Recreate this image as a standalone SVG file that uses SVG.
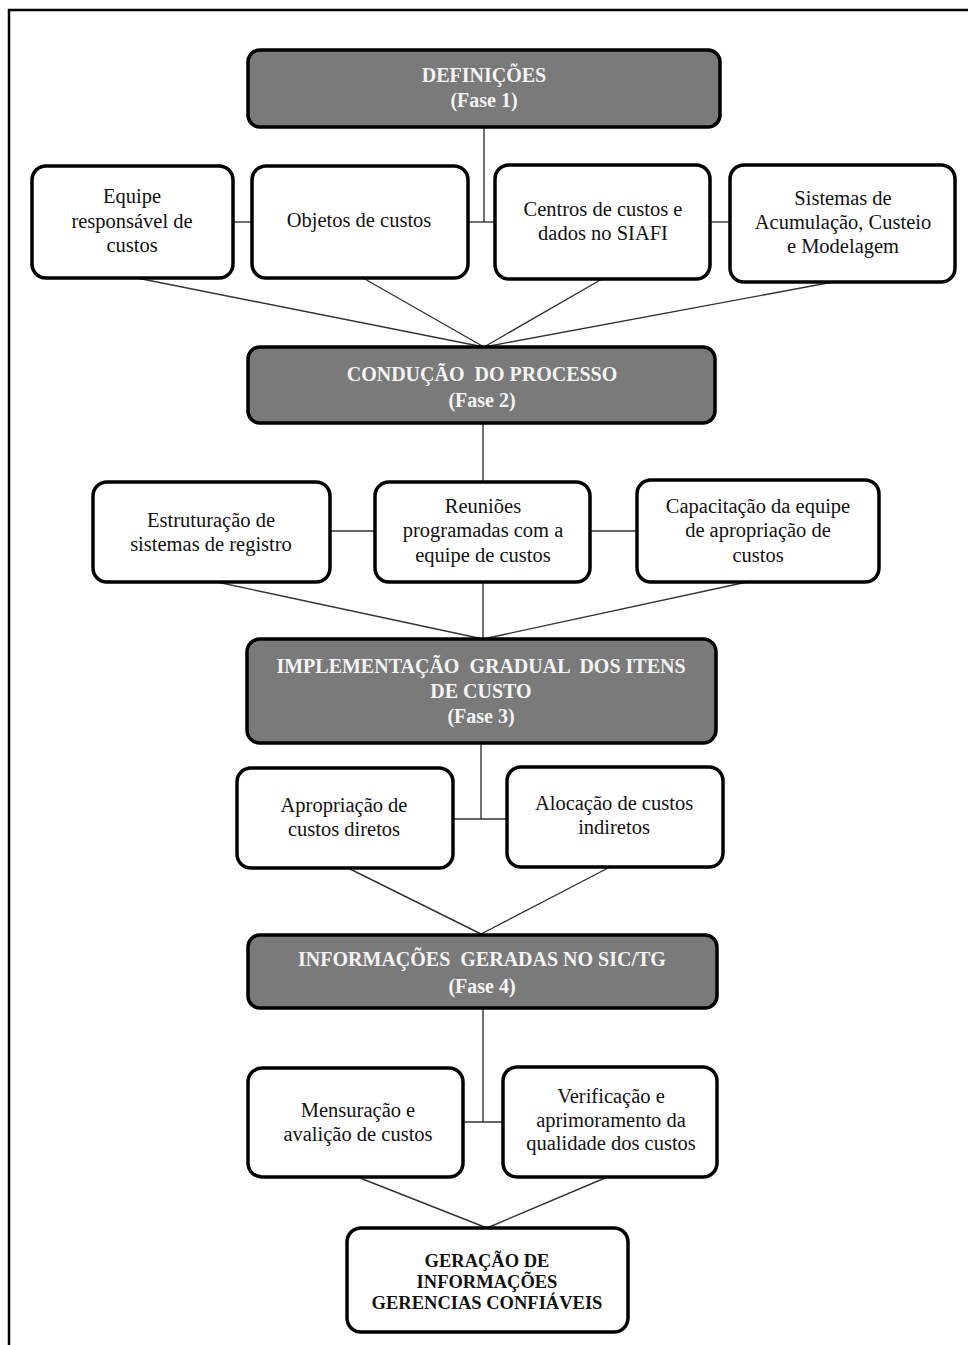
<svg xmlns="http://www.w3.org/2000/svg" width="968" height="1345" viewBox="0 0 968 1345">
<style>
  .phase rect { fill: #7a7a7a; stroke: #000; stroke-width: 3.5; }
  .box rect { fill: #fff; stroke: #000; stroke-width: 3.5; }
  .phase text { font-family: "Liberation Serif", "Times New Roman", serif; font-weight: bold; font-size: 20px; fill: #f4f4f4; text-anchor: middle; }
  .box text { font-family: "Liberation Serif", "Times New Roman", serif; font-size: 20.5px; fill: #111; text-anchor: middle; }
  .final text { font-weight: bold; font-size: 18.5px; fill: #111; }
  #connectors line { stroke: #333; stroke-width: 1.4; }
</style>
<rect x="0" y="0" width="968" height="1345" fill="#fff"/>
<rect id="frame" x="9" y="10" width="1000" height="1400" fill="none" stroke="#000" stroke-width="2.5"/>

<g id="connectors">
  <line x1="484" y1="127" x2="484" y2="222"/>
  <line x1="233" y1="222" x2="252" y2="222"/>
  <line x1="468" y1="222" x2="495" y2="222"/>
  <line x1="710" y1="222" x2="730" y2="222"/>
  <line x1="137" y1="278" x2="484" y2="347"/>
  <line x1="363" y1="278" x2="484" y2="347"/>
  <line x1="602" y1="279" x2="484" y2="347"/>
  <line x1="833" y1="282" x2="484" y2="347"/>
  <line x1="483" y1="423" x2="483" y2="482"/>
  <line x1="330" y1="531" x2="375" y2="531"/>
  <line x1="590" y1="531" x2="637" y2="531"/>
  <line x1="217" y1="582" x2="483" y2="639"/>
  <line x1="483" y1="582" x2="483" y2="639"/>
  <line x1="747" y1="582" x2="483" y2="639"/>
  <line x1="481" y1="743" x2="481" y2="819"/>
  <line x1="453" y1="819" x2="507" y2="819"/>
  <line x1="348" y1="868" x2="481" y2="934"/>
  <line x1="610" y1="867" x2="481" y2="934"/>
  <line x1="483" y1="1008" x2="483" y2="1122"/>
  <line x1="463" y1="1122" x2="503" y2="1122"/>
  <line x1="360" y1="1178" x2="487" y2="1228"/>
  <line x1="605" y1="1178" x2="487" y2="1228"/>
</g>

<g id="fase1" class="phase">
  <rect x="248" y="50" width="472" height="77" rx="12"/>
  <text x="484" y="82">DEFINIÇÕES</text>
  <text x="484" y="107">(Fase 1)</text>
</g>

<g id="equipe" class="box">
  <rect x="32" y="166" width="201" height="112" rx="14"/>
  <text x="132" y="203">Equipe</text>
  <text x="132" y="228">responsável de</text>
  <text x="132" y="252">custos</text>
</g>
<g id="objetos" class="box">
  <rect x="252" y="166" width="216" height="112" rx="14"/>
  <text x="359" y="227">Objetos de custos</text>
</g>
<g id="centros" class="box">
  <rect x="495" y="165" width="215" height="114" rx="14"/>
  <text x="603" y="216">Centros de custos e</text>
  <text x="603" y="240">dados no SIAFI</text>
</g>
<g id="sistemas" class="box">
  <rect x="730" y="165" width="225" height="117" rx="14"/>
  <text x="843" y="205">Sistemas de</text>
  <text x="843" y="229">Acumulação, Custeio</text>
  <text x="843" y="253">e Modelagem</text>
</g>

<g id="fase2" class="phase">
  <rect x="248" y="347" width="467" height="76" rx="12"/>
  <text x="482" y="381" xml:space="preserve">CONDUÇÃO  DO PROCESSO</text>
  <text x="482" y="407">(Fase 2)</text>
</g>

<g id="estruturacao" class="box">
  <rect x="93" y="482" width="237" height="100" rx="14"/>
  <text x="211" y="527">Estruturação de</text>
  <text x="211" y="551">sistemas de registro</text>
</g>
<g id="reunioes" class="box">
  <rect x="375" y="482" width="215" height="100" rx="14"/>
  <text x="483" y="513">Reuniões</text>
  <text x="483" y="537">programadas com a</text>
  <text x="483" y="562">equipe de custos</text>
</g>
<g id="capacitacao" class="box">
  <rect x="637" y="480" width="242" height="102" rx="14"/>
  <text x="758" y="513">Capacitação da equipe</text>
  <text x="758" y="537">de apropriação de</text>
  <text x="758" y="562">custos</text>
</g>

<g id="fase3" class="phase">
  <rect x="247" y="639" width="469" height="104" rx="13"/>
  <text x="481" y="673" xml:space="preserve">IMPLEMENTAÇÃO  GRADUAL  DOS ITENS</text>
  <text x="481" y="698">DE CUSTO</text>
  <text x="481" y="723">(Fase 3)</text>
</g>

<g id="apropriacao" class="box">
  <rect x="237" y="768" width="216" height="100" rx="14"/>
  <text x="344" y="812">Apropriação de</text>
  <text x="344" y="836">custos diretos</text>
</g>
<g id="alocacao" class="box">
  <rect x="507" y="767" width="216" height="100" rx="14"/>
  <text x="614" y="810">Alocação de custos</text>
  <text x="614" y="834">indiretos</text>
</g>

<g id="fase4" class="phase">
  <rect x="248" y="935" width="469" height="73" rx="12"/>
  <text x="482" y="966" xml:space="preserve">INFORMAÇÕES  GERADAS NO SIC/TG</text>
  <text x="482" y="993">(Fase 4)</text>
</g>

<g id="mensuracao" class="box">
  <rect x="248" y="1068" width="215" height="109" rx="14"/>
  <text x="358" y="1117">Mensuração e</text>
  <text x="358" y="1141">avalição de custos</text>
</g>
<g id="verificacao" class="box">
  <rect x="503" y="1067" width="214" height="110" rx="14"/>
  <text x="611" y="1103">Verificação e</text>
  <text x="611" y="1127">aprimoramento da</text>
  <text x="611" y="1150">qualidade dos custos</text>
</g>

<g id="geracao" class="box final">
  <rect x="347" y="1228" width="281" height="104" rx="14"/>
  <text x="487" y="1267">GERAÇÃO DE</text>
  <text x="487" y="1288">INFORMAÇÕES</text>
  <text x="487" y="1309">GERENCIAS CONFIÁVEIS</text>
</g>
</svg>
